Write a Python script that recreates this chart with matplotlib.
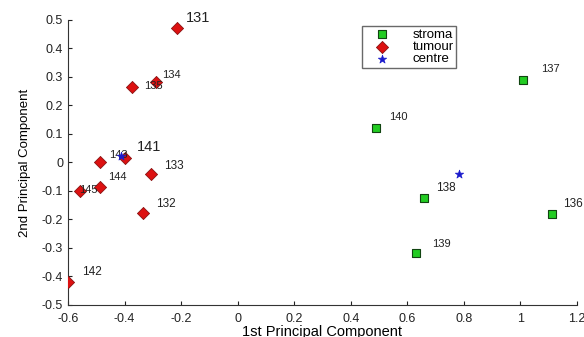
"""PCA scatter of stroma and tumour samples with their centres."""

import matplotlib
matplotlib.use("Agg")
import matplotlib.pyplot as plt

plt.rcParams["font.family"] = ["Liberation Sans", "DejaVu Sans"]

# sample scores on the first two principal components
stroma_ids = ["137", "140", "138", "139", "136"]
stroma_pc1 = [1.009, 0.488, 0.658, 0.630, 1.111]
stroma_pc2 = [0.290, 0.122, -0.126, -0.318, -0.182]

tumour_ids = ["131", "134", "135", "141", "143", "133", "144", "145", "132", "142"]
tumour_pc1 = [-0.216, -0.290, -0.375, -0.400, -0.488, -0.308, -0.488, -0.556, -0.336, -0.600]
tumour_pc2 = [0.472, 0.283, 0.266, 0.014, 0.003, -0.042, -0.087, -0.100, -0.178, -0.420]

centre_pc1 = [-0.414, 0.782]
centre_pc2 = [0.024, -0.042]

# label offsets (points) and font sizes per sample
label_style = {
    "131": ((7, 2), 10.5), "134": ((5, 1), 8), "135": ((9, -3), 8),
    "141": ((9, 3), 10.5), "143": ((7, 1), 8), "133": ((10, 2), 8.5),
    "144": ((6, 4), 8), "145": ((-1, -3), 8), "132": ((10, 2), 8.5),
    "142": ((10, 3), 8.5), "137": ((13, 4), 8), "140": ((10, 4), 8),
    "138": ((9, 3), 8.5), "139": ((12, 3), 8), "136": ((8, 3), 8.5),
}

fig = plt.figure(figsize=(5.84, 3.37), dpi=100)
ax = fig.add_axes([0.1164, 0.095, 0.8716, 0.8457])

ax.scatter(stroma_pc1, stroma_pc2, marker="s", s=38, c="#22cc22",
           edgecolors="#114411", linewidths=0.8, label="stroma", zorder=3)
ax.scatter(tumour_pc1, tumour_pc2, marker="D", s=38, c="#dd1111",
           edgecolors="#881111", linewidths=0.6, label="tumour", zorder=3)
ax.scatter(centre_pc1, centre_pc2, marker="*", s=40, c="#1a1acc",
           edgecolors="#1a1acc", linewidths=0.5, label="centre", zorder=4)

for ids, xs, ys in [(stroma_ids, stroma_pc1, stroma_pc2),
                    (tumour_ids, tumour_pc1, tumour_pc2)]:
    for name, x, y in zip(ids, xs, ys):
        offset, size = label_style[name]
        ax.annotate(name, (x, y), xytext=offset, textcoords="offset points",
                    fontsize=size, color="#222222", va="bottom", ha="left")

ax.set_xlim(-0.6, 1.2)
ax.set_ylim(-0.5, 0.5)
ax.set_xticks([-0.6, -0.4, -0.2, 0, 0.2, 0.4, 0.6, 0.8, 1, 1.2])
ax.set_xticklabels(["-0.6", "-0.4", "-0.2", "0", "0.2", "0.4", "0.6", "0.8", "1", "1.2"])
ax.set_yticks([-0.5, -0.4, -0.3, -0.2, -0.1, 0, 0.1, 0.2, 0.3, 0.4, 0.5])
ax.set_yticklabels(["-0.5", "-0.4", "-0.3", "-0.2", "-0.1", "0", "0.1", "0.2", "0.3", "0.4", "0.5"])
ax.tick_params(direction="in", length=3, labelsize=9, colors="#222222")
ax.tick_params(axis="x", pad=6)

for side in ("top", "right"):
    ax.spines[side].set_visible(False)
for side in ("left", "bottom"):
    ax.spines[side].set_color("#333333")

ax.set_xlabel("1st Principal Component", fontsize=10.5, labelpad=0)
ax.set_ylabel("2nd Principal Component", fontsize=9.5, labelpad=8)

ax.legend(loc="upper left", bbox_to_anchor=(0.578, 0.979), fontsize=9.5,
          frameon=True, fancybox=False, edgecolor="#444444",
          handletextpad=1.0, borderpad=0.2, labelspacing=0.0,
          scatterpoints=1, handlelength=2.6, borderaxespad=0)

fig.savefig("out.png", dpi=100)
